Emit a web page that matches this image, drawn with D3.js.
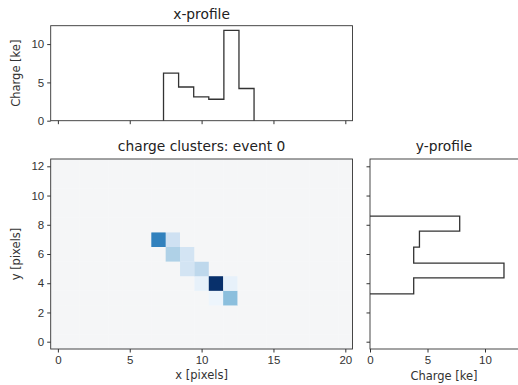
<!DOCTYPE html>
<html lang="en">
<head>
<meta charset="UTF-8">
<title>charge clusters</title>
<script src="https://d3js.org/d3.v7.min.js"></script>
<style>
    body { margin: 0; background: #fff; }
    svg { display: block; font-family: "DejaVu Sans", sans-serif; }
    .tick text { font-size: 11.5px; fill: #333; }
    .tick line, .domain { stroke: #333; }
    .title { font-size: 13.8px; fill: #222; text-anchor: middle; }
    .label { font-size: 11.5px; fill: #333; text-anchor: middle; }
    .frame { fill: none; stroke: #333; stroke-width: 0.9px; }
    .step { fill: none; stroke: #333; stroke-width: 1.3px; }
</style>
</head>
<body>
<svg width="518" height="385"></svg>
<script>
// heatmap grid size
const nx = 21, ny = 13;
// non-zero pixels: [x, y, charge]
const pixels = [
    [7, 7, 6.9], [8, 7, 2.0],
    [8, 6, 3.2], [9, 6, 1.8],
    [9, 5, 1.8], [10, 5, 2.7],
    [10, 4, 0.8], [11, 4, 10.0], [12, 4, 0.8],
    [11, 3, 0.5], [12, 3, 4.2]
];
// x-profile histogram
const xEdges = [7.35, 8.4, 9.45, 10.5, 11.55, 12.6, 13.65];
const xProfile = [6.2, 4.4, 3.1, 2.8, 11.8, 4.2];
// y-profile histogram
const yEdges = [3.27, 4.37, 5.37, 6.47, 7.56, 8.59];
const yProfile = [3.8, 11.65, 3.8, 4.3, 7.8];

const xTicks = [0, 5, 10, 15, 20];
const yTicks = [0, 2, 4, 6, 8, 10, 12];
const chargeTicksTop = [0, 5, 10];
const chargeTicksRight = [0, 5, 10];

const svg = d3.select("svg");

// panel boxes
const heatBox = { l: 50.7, r: 352.5, t: 159, b: 349 };
const topBox = { l: 50.7, r: 352.5, t: 25.7, b: 120.7 };
const sideBox = { l: 370, r: 519.5, t: 159, b: 349 };

const x = d3.scaleLinear().domain([-0.5, 20.5]).range([heatBox.l, heatBox.r]);
const y = d3.scaleLinear().domain([-0.5, 12.5]).range([heatBox.b, heatBox.t]);
const yTop = d3.scaleLinear().domain([0, 12.4]).range([topBox.b, topBox.t]);
const xSide = d3.scaleLinear().domain([0, 13]).range([sideBox.l, sideBox.r]);

const color = d3.scaleSequential(d3.interpolateBlues).domain([0, 10]);

// ---- heatmap ----
const grid = [];
for (let j = 0; j < ny; j++)
    for (let i = 0; i < nx; i++) grid.push({ i, j, v: 0 });
pixels.forEach(([i, j, v]) => { grid[j * nx + i].v = v; });

svg.append("g").selectAll("rect")
    .data(grid)
    .enter().append("rect")
    .attr("x", d => x(d.i - 0.5))
    .attr("y", d => y(d.j + 0.5))
    .attr("width", x(1) - x(0) + 0.3)
    .attr("height", y(0) - y(1) + 0.3)
    .attr("fill", d => d.v === 0 ? "#f5f6f7" : color(d.v));

svg.append("rect").attr("class", "frame")
    .attr("x", heatBox.l).attr("y", heatBox.t)
    .attr("width", heatBox.r - heatBox.l).attr("height", heatBox.b - heatBox.t);

svg.append("g")
    .attr("transform", `translate(0,${heatBox.b})`)
    .call(d3.axisBottom(x).tickValues(xTicks).tickSize(3.5).tickPadding(3))
    .call(g => g.select(".domain").remove());
svg.append("g")
    .attr("transform", `translate(${heatBox.l},0)`)
    .call(d3.axisLeft(y).tickValues(yTicks).tickSize(3.5).tickPadding(3))
    .call(g => g.select(".domain").remove());

svg.append("text").attr("class", "title")
    .attr("x", (heatBox.l + heatBox.r) / 2).attr("y", 151)
    .text("charge clusters: event 0");
svg.append("text").attr("class", "label")
    .attr("x", (heatBox.l + heatBox.r) / 2).attr("y", 379)
    .text("x [pixels]");
svg.append("text").attr("class", "label")
    .attr("transform", `translate(20,${(heatBox.t + heatBox.b) / 2}) rotate(-90)`)
    .text("y [pixels]");

// ---- x-profile ----
const xPts = [[xEdges[0], 0]];
xProfile.forEach((v, k) => { xPts.push([xEdges[k], v], [xEdges[k + 1], v]); });
xPts.push([xEdges[xEdges.length - 1], 0]);

svg.append("path").attr("class", "step")
    .attr("d", d3.line().x(d => x(d[0])).y(d => yTop(d[1]))(xPts));

svg.append("rect").attr("class", "frame")
    .attr("x", topBox.l).attr("y", topBox.t)
    .attr("width", topBox.r - topBox.l).attr("height", topBox.b - topBox.t);

svg.append("g")
    .attr("transform", `translate(0,${topBox.b})`)
    .call(d3.axisBottom(x).tickValues(xTicks).tickSize(3.5).tickFormat(""))
    .call(g => g.select(".domain").remove());
svg.append("g")
    .attr("transform", `translate(${topBox.l},0)`)
    .call(d3.axisLeft(yTop).tickValues(chargeTicksTop).tickSize(3.5).tickPadding(3))
    .call(g => g.select(".domain").remove());

svg.append("text").attr("class", "title")
    .attr("x", (topBox.l + topBox.r) / 2).attr("y", 19)
    .text("x-profile");
svg.append("text").attr("class", "label")
    .attr("transform", `translate(20,${(topBox.t + topBox.b) / 2}) rotate(-90)`)
    .text("Charge [ke]");

// ---- y-profile ----
const yPts = [[0, yEdges[0]]];
yProfile.forEach((v, k) => { yPts.push([v, yEdges[k]], [v, yEdges[k + 1]]); });
yPts.push([0, yEdges[yEdges.length - 1]]);

svg.append("path").attr("class", "step")
    .attr("d", d3.line().x(d => xSide(d[0])).y(d => y(d[1]))(yPts));

svg.append("rect").attr("class", "frame")
    .attr("x", sideBox.l).attr("y", sideBox.t)
    .attr("width", sideBox.r - sideBox.l).attr("height", sideBox.b - sideBox.t);

svg.append("g")
    .attr("transform", `translate(0,${sideBox.b})`)
    .call(d3.axisBottom(xSide).tickValues(chargeTicksRight).tickSize(3.5).tickPadding(3))
    .call(g => g.select(".domain").remove());
svg.append("g")
    .attr("transform", `translate(${sideBox.l},0)`)
    .call(d3.axisLeft(y).tickValues(yTicks).tickSize(3.5).tickFormat(""))
    .call(g => g.select(".domain").remove());

svg.append("text").attr("class", "title")
    .attr("x", 444).attr("y", 151)
    .text("y-profile");
svg.append("text").attr("class", "label")
    .attr("x", 444).attr("y", 380)
    .text("Charge [ke]");
</script>
</body>
</html>
